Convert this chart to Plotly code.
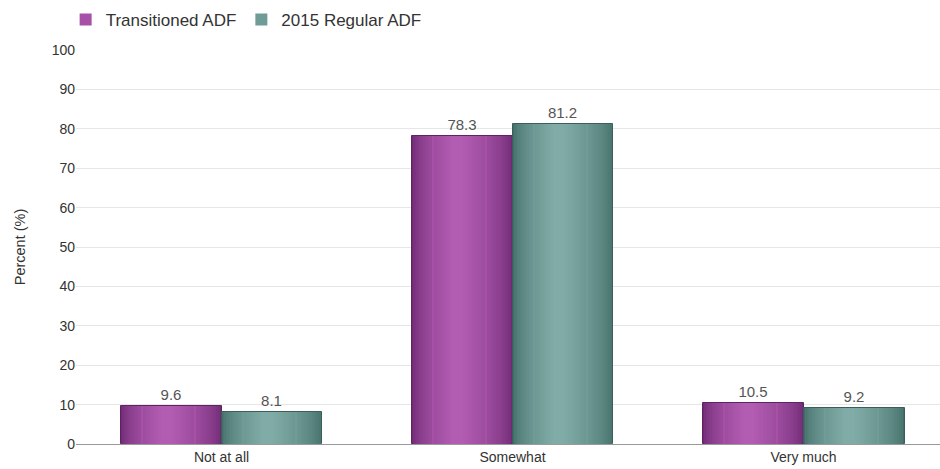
import plotly.graph_objects as go

# Survey responses
categories = ["Not at all", "Somewhat", "Very much"]
transitioned = [9.6, 78.3, 10.5]
regular_2015 = [8.1, 81.2, 9.2]
series_names = ["Transitioned ADF", "2015 Regular ADF"]
y_ticks = [0, 10, 20, 30, 40, 50, 60, 70, 80, 90, 100]

BAR_W = 0.347
N_LAYERS = 28
LIGHT_POS = 0.45  # where the highlight sits across the bar (0=left, 1=right)
FONT = "Liberation Sans, Arial"


def hex_to_rgb(h):
    h = h.lstrip("#")
    return tuple(int(h[i:i + 2], 16) for i in (0, 2, 4))


def mix(c1, c2, t):
    a, b = hex_to_rgb(c1), hex_to_rgb(c2)
    return "rgb(%d,%d,%d)" % tuple(round(a[i] + (b[i] - a[i]) * t) for i in range(3))


styles = [
    dict(values=transitioned, offset=-BAR_W, dark="#6f2a73", light="#b35db3",
         legend="#a651a7", edge="#5e2462"),
    dict(values=regular_2015, offset=0.0, dark="#426e68", light="#82aca7",
         legend="#6f9c97", edge="#3a5f5a"),
]

fig = go.Figure()

for name, st in zip(series_names, styles):
    # Outer shell: dark edge colour, outline and value labels
    fig.add_trace(go.Bar(
        x=categories, y=st["values"], width=BAR_W, offset=st["offset"],
        marker=dict(color=st["dark"], line=dict(color=st["edge"], width=1)),
        text=["%.1f" % v for v in st["values"]], textposition="outside",
        textfont=dict(color="#555555", size=15, family=FONT),
        cliponaxis=False, showlegend=False, hoverinfo="skip", name=name,
    ))
    # Nested, progressively lighter layers for a cylindrical shading
    for k in range(1, N_LAYERS):
        t = k / N_LAYERS * 0.92
        left = t * BAR_W * LIGHT_POS
        right = t * BAR_W * (1 - LIGHT_POS)
        w = BAR_W - left - right
        shade = (k / N_LAYERS) ** 0.6
        is_leg = (k == N_LAYERS // 2)
        fig.add_trace(go.Bar(
            x=categories, y=st["values"], width=w, offset=st["offset"] + left,
            marker=dict(color=st["legend"] if is_leg else mix(st["dark"], st["light"], shade),
                        line=dict(width=0)),
            showlegend=is_leg, name=name, hoverinfo="skip",
            legendrank=1 if name == series_names[0] else 2,
        ))

fig.update_layout(
    barmode="overlay",
    width=940, height=469,
    margin=dict(l=76, r=0, t=50, b=25),
    paper_bgcolor="white", plot_bgcolor="white",
    font=dict(family=FONT, color="#333333", size=14),
    legend=dict(orientation="h", x=-0.012, y=1.0 + 30 / 394, xanchor="left", yanchor="middle",
                font=dict(size=17, color="#333333"), traceorder="normal",
                itemwidth=30, tracegroupgap=0),
    bargap=0,
    showlegend=True,
)
fig.update_xaxes(
    range=[-0.5, 2.469], showgrid=False, tickfont=dict(size=14, color="#333333"),
    showline=True, linecolor="#999999", linewidth=1, ticks="", fixedrange=True,
)
fig.update_yaxes(
    range=[0, 100], tickvals=y_ticks, showgrid=True, gridcolor="#e6e6e6",
    zeroline=False, ticks="", tickfont=dict(size=14, color="#333333"),
    title=dict(text="Percent (%)", font=dict(size=14.5, color="#333333"), standoff=22),
)

fig.write_html("out.html")
